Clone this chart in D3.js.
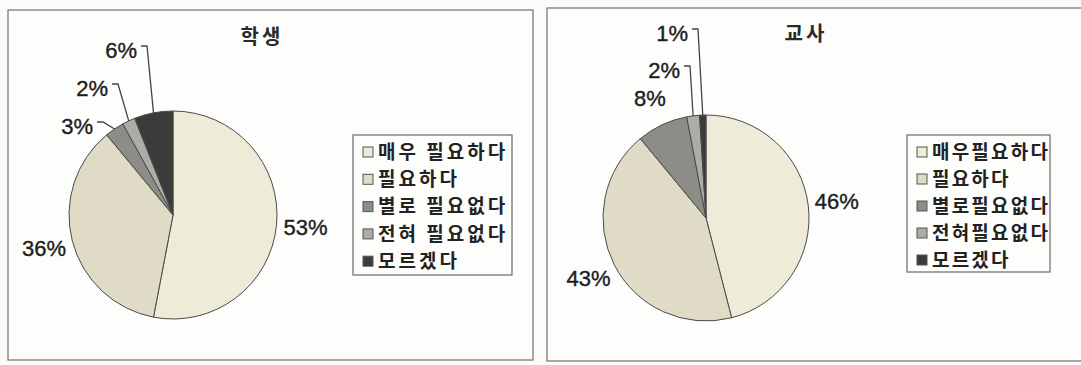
<!DOCTYPE html>
<html>
<head>
<meta charset="utf-8">
<script src="https://cdn.jsdelivr.net/npm/d3@7"></script>
<style>
  html, body { margin: 0; padding: 0; background: #fbfbf9; }
  svg { display: block; }
</style>
</head>
<body>
<div id="chart"></div>
<script>
// data
var studentLabels = ["매우 필요하다", "필요하다", "별로 필요없다", "전혀 필요없다", "모르겠다"];
var teacherLabels = ["매우필요하다", "필요하다", "별로필요없다", "전혀필요없다", "모르겠다"];
var studentValues = [53, 36, 3, 2, 6];
var teacherValues = [46, 43, 8, 2, 1];
var titles = ["학생", "교사"];

var colors = ["#eeebd9", "#dfdbc7", "#8d8d87", "#aeada5", "#3b3b3b"];

var width = 1081, height = 365;

var svg = d3.select("#chart").append("svg")
    .attr("width", width)
    .attr("height", height);

// layout for each panel
var panels = [
    {
        title: titles[0], labels: studentLabels, values: studentValues,
        frame: [8, 10, 525, 350],
        cx: 173, cy: 215, r: 104,
        titleX: 262, titleY: 44,
        legend: { x: 353, y: 135, w: 159, h: 140, step: 27.3, spacing: 3 },
        // small slices get a leader, label right edge offset from pie centre
        leaders: { 2: [-80, -89], 3: [-65, -127], 4: [-36, -165] }
    },
    {
        title: titles[1], labels: teacherLabels, values: teacherValues,
        frame: [547, 8, 540, 353],
        cx: 706, cy: 218, r: 103,
        titleX: 806, titleY: 41,
        legend: { x: 907, y: 135, w: 143, h: 137, step: 27, spacing: 2.2 },
        leaders: { 3: [-26, -148], 4: [-18, -185] }
    }
];

var pie = d3.pie().sort(null).value(function (d) { return d; });

panels.forEach(function (p) {
    var g = svg.append("g");

    g.append("rect")
        .attr("x", p.frame[0]).attr("y", p.frame[1])
        .attr("width", p.frame[2]).attr("height", p.frame[3])
        .attr("fill", "#fdfdfb")
        .attr("stroke", "#6f6f6f")
        .attr("stroke-width", 1.2);

    g.append("text")
        .attr("x", p.titleX).attr("y", p.titleY)
        .attr("text-anchor", "middle")
        .attr("font-family", "Noto Sans CJK KR")
        .attr("font-size", 20)
        .attr("font-weight", "bold")
        .attr("letter-spacing", 3)
        .attr("fill", "#2a2a2a")
        .text(p.title);

    var arcs = pie(p.values);
    var arc = d3.arc().innerRadius(0).outerRadius(p.r);
    var pieG = g.append("g").attr("transform", "translate(" + p.cx + "," + p.cy + ")");

    pieG.selectAll("path")
        .data(arcs)
        .enter().append("path")
        .attr("d", arc)
        .attr("fill", function (d, i) { return colors[i]; })
        .attr("stroke", "#4a4a4a")
        .attr("stroke-width", 1);

    function pct(sel) {
        sel.attr("dy", "0.35em")
            .attr("font-family", "Liberation Sans, Arial")
            .attr("font-size", 22)
            .attr("fill", "#1e1e1e")
            .attr("stroke", "#1e1e1e")
            .attr("stroke-width", 0.4);
    }

    arcs.forEach(function (d, i) {
        var mid = (d.startAngle + d.endAngle) / 2;
        var label = d.value + "%";
        var lead = p.leaders[i];
        if (lead) {
            pieG.append("text")
                .attr("x", lead[0]).attr("y", lead[1])
                .attr("text-anchor", "end")
                .call(pct)
                .text(label);
            var ex = p.r * Math.sin(mid), ey = -p.r * Math.cos(mid);
            var sx = lead[0] + 4, sy = lead[1] - 4;
            pieG.append("path")
                .attr("d", "M" + sx + "," + sy + "L" + (sx + 6) + "," + sy + "L" + ex + "," + ey)
                .attr("fill", "none")
                .attr("stroke", "#444")
                .attr("stroke-width", 1.3);
        } else {
            var rr = p.r * 1.28;
            pieG.append("text")
                .attr("x", rr * Math.sin(mid))
                .attr("y", -rr * Math.cos(mid))
                .attr("text-anchor", "middle")
                .call(pct)
                .text(label);
        }
    });

    // legend
    var L = p.legend;
    var lg = g.append("g").attr("transform", "translate(" + L.x + "," + L.y + ")");
    lg.append("rect")
        .attr("width", L.w).attr("height", L.h)
        .attr("fill", "#fdfdfb")
        .attr("stroke", "#6a6a6a")
        .attr("stroke-width", 1.2);

    var items = lg.selectAll(".item")
        .data(p.labels)
        .enter().append("g")
        .attr("class", "item")
        .attr("transform", function (d, i) { return "translate(0," + (17 + i * L.step) + ")"; });

    items.append("rect")
        .attr("x", 10).attr("y", -5)
        .attr("width", 10).attr("height", 10)
        .attr("fill", function (d, i) { return colors[i]; })
        .attr("stroke", "#555")
        .attr("stroke-width", 1);

    items.append("text")
        .attr("x", 25)
        .attr("dy", "0.36em")
        .attr("font-family", "Noto Sans CJK KR")
        .attr("font-size", 19)
        .attr("font-weight", "bold")
        .attr("letter-spacing", L.spacing)
        .attr("fill", "#222")
        .text(function (d) { return d; });
});
</script>
</body>
</html>
